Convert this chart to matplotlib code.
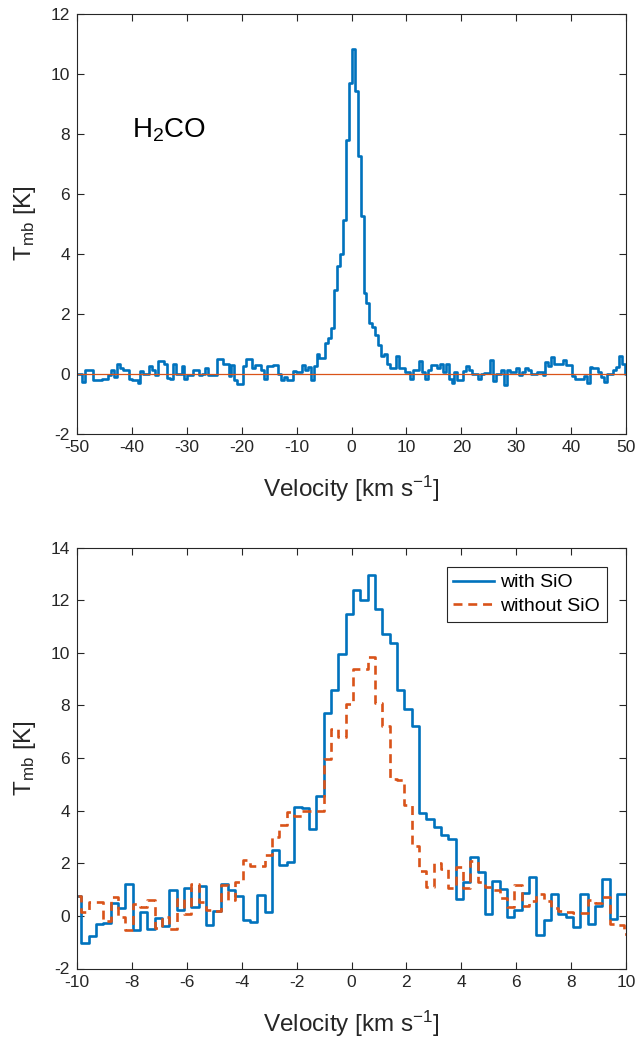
import numpy as np
import matplotlib
matplotlib.use("Agg")
import matplotlib.pyplot as plt

plt.rcParams['font.family'] = ['Liberation Sans', 'DejaVu Sans']
plt.rcParams['mathtext.default'] = 'regular'
plt.rcParams['axes.unicode_minus'] = False

BLUE = '#0072BD'
ORANGE = '#D95319'
AXC = '#262626'

# ---------------- data ----------------
# top panel: H2CO spectrum, channel width ~0.535 km/s
top_chan_width = 0.5346
top_chan_first = -94
T_h2co = [
    0.0, 0.0, -0.28, 0.13, 0.11, 0.11, -0.22, -0.22, -0.22, -0.17,
    -0.17, -0.06, 0.11, -0.11, 0.33, 0.17, 0.11, 0.11, -0.17, -0.22,
    -0.22, -0.31, 0.09, 0.0, 0.0, 0.26, 0.11, -0.06, 0.41, 0.41,
    0.33, -0.14, -0.17, 0.31, -0.02, -0.02, 0.26, -0.19, -0.06, -0.06,
    0.13, 0.13, -0.06, 0.0, 0.19, -0.06, -0.06, -0.06, 0.49, 0.49,
    0.31, 0.31, -0.08, 0.3, -0.22, -0.36, -0.36, 0.26, 0.47, 0.47,
    0.17, 0.28, 0.28, 0.11, -0.17, 0.24, 0.24, 0.27, 0.27, 0.0,
    -0.22, -0.11, -0.22, -0.22, 0.09, 0.06, 0.06, 0.28, 0.13, 0.22,
    -0.22, 0.26, 0.64, 0.53, 0.53, 1.03, 1.17, 1.52, 2.78, 3.58,
    4.0, 5.11, 7.78, 9.67, 10.83, 9.41, 7.24, 5.24, 2.67, 2.36,
    1.67, 1.56, 1.28, 0.94, 0.6, 0.66, 0.31, 0.2, 0.17, 0.59,
    0.17, 0.17, 0.06, 0.06, -0.19, 0.11, 0.11, 0.41, 0.06, -0.17,
    0.11, 0.28, 0.28, 0.17, 0.31, 0.06, 0.33, -0.17, -0.33, 0.06,
    -0.22, -0.22, 0.08, 0.26, 0.11, 0.0, 0.0, -0.17, 0.0, 0.02,
    0.02, 0.44, -0.24, 0.0, 0.0, 0.11, -0.39, 0.11, 0.06, 0.06,
    0.17, -0.06, 0.06, 0.17, 0.11, 0.0, 0.0, 0.06, 0.06, -0.06,
    0.39, 0.26, 0.56, 0.33, 0.33, 0.31, 0.44, 0.28, 0.28, -0.08,
    -0.19, -0.17, -0.17, -0.08, -0.33, 0.22, 0.2, 0.2, 0.06, -0.13,
    -0.28, 0.0, 0.0, 0.11, 0.22, 0.58, 0.33, 0.0,
]

# bottom panel: channel width ~0.267 km/s
bot_chan_width = 0.2673
bot_chan_first = -38
T_with_sio = [
    0.76, -1.04, -0.76, -0.32, -0.27, 0.5, 0.29, 1.2, -0.52, 0.15,
    -0.49, -0.08, -0.39, 0.99, 0.21, 1.05, 0.33, 1.13, -0.34, 0.18,
    1.21, 1.0, 0.76, -0.14, -0.25, 0.81, 0.16, 2.5, 1.95, 2.06,
    4.14, 4.1, 3.32, 4.56, 7.72, 8.57, 9.96, 11.46, 12.4, 12.0,
    12.97, 11.65, 10.7, 10.37, 8.6, 7.88, 7.22, 3.9, 3.7, 3.38,
    3.06, 2.91, 0.63, 1.27, 2.22, 1.66, 0.06, 1.33, 1.04, -0.05,
    0.22, 0.86, 1.46, -0.72, -0.16, 0.82, 0.06, -0.05, -0.42, 0.82,
    -0.29, 0.37, 1.39, -0.13, 0.85, 0.82,
]
T_without_sio = [
    0.76, 0.14, 0.53, 0.53, -0.2, 0.72, -0.04, -0.55, 0.45, 0.34,
    0.6, -0.45, -0.05, -0.48, 0.63, 0.07, 1.2, 0.53, 0.22, 0.2,
    1.16, 0.62, 1.3, 2.12, 1.9, 1.9, 2.3, 3.0, 3.44, 3.93,
    3.78, 4.0, 4.0, 4.0, 5.95, 7.1, 6.8, 8.06, 9.37, 9.37,
    9.85, 8.09, 7.2, 5.2, 5.15, 4.2, 2.66, 1.7, 1.1, 2.0,
    1.8, 1.07, 1.85, 1.05, 2.1, 1.29, 1.1, 0.97, 0.68, 0.35,
    1.16, 0.37, 0.57, 0.85, 0.55, 0.3, 0.2, 0.15, 0.12, 0.1,
    0.6, 0.5, 0.72, -0.32, -0.35, -0.67,
]

series_labels = ['with SiO', 'without SiO']
top_xticks = [-50, -40, -30, -20, -10, 0, 10, 20, 30, 40, 50]
top_yticks = [-2, 0, 2, 4, 6, 8, 10, 12]
bot_xticks = [-10, -8, -6, -4, -2, 0, 2, 4, 6, 8, 10]
bot_yticks = [-2, 0, 2, 4, 6, 8, 10, 12, 14]

# channel centres (regular spectral grid)
v_top = 0.05 + top_chan_width * (np.arange(top_chan_first, top_chan_first + len(T_h2co)) + 0.5)
v_bot = 0.05 + bot_chan_width * (np.arange(bot_chan_first, bot_chan_first + len(T_with_sio)) + 0.5)

# ---------------- figure ----------------
fig = plt.figure(figsize=(6.37, 10.40), dpi=100)
W, H = 637.0, 1040.0
ax1 = fig.add_axes([77 / W, 1 - 433.5 / H, 549 / W, 420 / H])
ax2 = fig.add_axes([77 / W, 1 - 968.5 / H, 549 / W, 421 / H])


def style(ax):
    for s in ax.spines.values():
        s.set_color(AXC)
        s.set_linewidth(0.8)
    ax.tick_params(direction='in', top=True, right=True, length=5, width=0.8,
                   colors=AXC, labelsize=12.5, pad=5)
    for lab in ax.get_xticklabels() + ax.get_yticklabels():
        lab.set_color(AXC)


LABEL_FS = 17.5

# top panel
ax1.plot(v_top, T_h2co, drawstyle='steps-mid', color=BLUE, lw=1.9)
ax1.axhline(0, color=ORANGE, lw=0.9)
ax1.set_xlim(-50, 50)
ax1.set_ylim(-2, 12)
ax1.set_xticks(top_xticks)
ax1.set_yticks(top_yticks)
ax1.set_xlabel(r'Velocity [km s$^{-1}$]', fontsize=LABEL_FS, color=AXC, labelpad=13)
ax1.set_ylabel(r'T$_{mb}$ [K]', fontsize=LABEL_FS, color=AXC, labelpad=9)
ax1.text(-40.0, 7.85, r'H$_2$CO', fontsize=20, va='baseline', ha='left', color='black')
style(ax1)

# bottom panel
ax2.plot(v_bot, T_with_sio, drawstyle='steps-mid', color=BLUE, lw=1.9,
         label=series_labels[0])
ax2.plot(v_bot, T_without_sio, drawstyle='steps-mid', color=ORANGE, lw=1.9,
         dashes=(3.4, 2.2), label=series_labels[1])
ax2.set_xlim(-10, 10)
ax2.set_ylim(-2, 14)
ax2.set_xticks(bot_xticks)
ax2.set_yticks(bot_yticks)
ax2.set_xlabel(r'Velocity [km s$^{-1}$]', fontsize=LABEL_FS, color=AXC, labelpad=13)
ax2.set_ylabel(r'T$_{mb}$ [K]', fontsize=LABEL_FS, color=AXC, labelpad=9)
leg = ax2.legend(loc='upper right', fontsize=14, frameon=True, fancybox=False,
                 edgecolor=AXC, framealpha=1, borderpad=0.35, handlelength=2.1,
                 handletextpad=0.3, labelspacing=0.3, borderaxespad=1.0)
leg.get_frame().set_linewidth(0.8)
style(ax2)

fig.savefig('out.png', dpi=100)
